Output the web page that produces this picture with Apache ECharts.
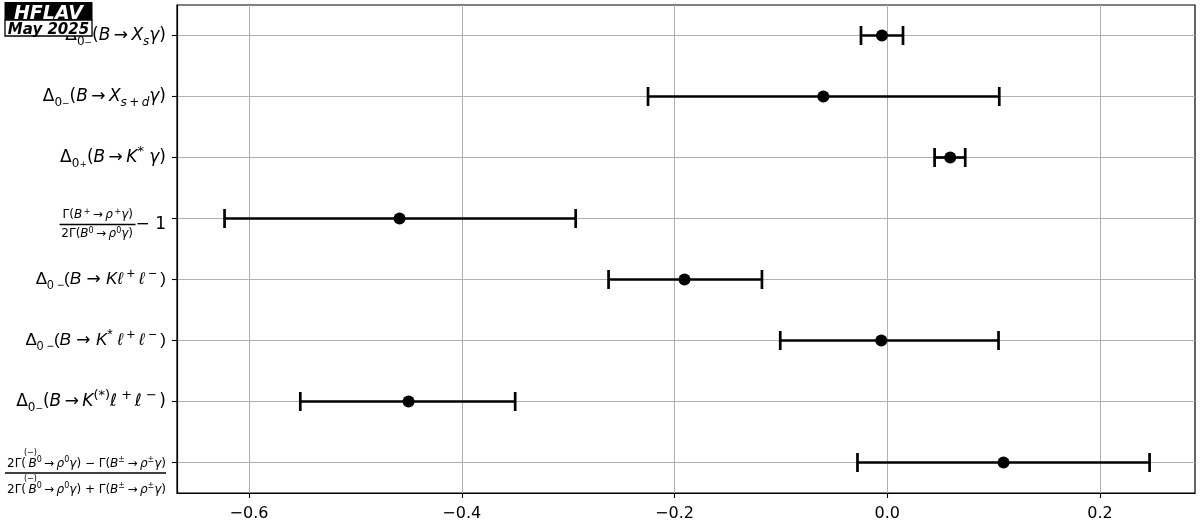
<!DOCTYPE html>
<html><head><meta charset="utf-8">
<script src="https://cdn.jsdelivr.net/npm/echarts@6/dist/echarts.min.js"></script>
<style>html,body{margin:0;padding:0;background:#fff}#c{width:1200px;height:528px}</style>
</head><body><div id="c"></div>
<script>
// ---- data ----
const categories = [
  'Delta_0-(B->Xs gamma)',
  'Delta_0-(B->Xs+d gamma)',
  'Delta_0+(B->K* gamma)',
  'Gamma(B+->rho+ gamma)/(2 Gamma(B0->rho0 gamma)) - 1',
  'Delta_0-(B->K l+ l-)',
  'Delta_0-(B->K* l+ l-)',
  'Delta_0-(B->K(*) l+ l-)',
  'isospin asymmetry B->rho gamma'
];
const centralValues = [-0.0050, -0.0601, 0.0592, -0.4585, -0.1906, -0.0056, -0.4500, 0.1093];
const lowerValues   = [-0.0247, -0.2249, 0.0445, -0.6230, -0.2620, -0.1006, -0.5518, -0.0280];
const upperValues   = [ 0.0148,  0.1053, 0.0733, -0.2929, -0.1178,  0.1046, -0.3498,  0.2466];
const xTickValues = [-0.6, -0.4, -0.2, 0.0, 0.2];
const xTickLabels = ['\u22120.6', '\u22120.4', '\u22120.2', '0.0', '0.2'];
const T = '\u2009'; // thin space
const AR = T + '→' + T;
const rowLabels = [
  '{n|Δ}{sb|0}{ss|−}{n|(}{i|B}{n|' + AR + '}{i|X}{sbi|s}{i|γ}{n|)}',
  '{n|Δ}{sb|0}{ss|−}{n|(}{i|B}{n|' + AR + '}{i|X}{sbi|s}{sb|' + T + '+' + T + '}{sbi|d}{i|γ}{n|)}',
  '{n|Δ}{sb|0}{ss|+}{n|(}{i|B}{n|' + AR + '}{i|K}{sup|*}{i| γ}{n|)}',
  '{gap3| }\n{f|Γ(}{fi|B}{fsup|' + T + '+}{f|' + AR + '}{fi|ρ}{fsup|' + T + '+}{fi|γ}{f|)}{sp3| }\n{bar3| }{m1|− 1}\n{f|2Γ(}{fi|B}{fsup|0}{f|' + AR + '}{fi|ρ}{fsup|0}{fi|γ}{f|)}{sp3| }',
  '{n2|Δ}{sb2|0}{sbl2| −}{n2|(}{i2|B}{n| → }{i2|Kℓ}{sup2| + }{i2|ℓ}{sup2| − }{n2|)}',
  '{n2|Δ}{sb2|0}{sbl2| −}{n2|(}{i2|B}{n| → }{i2|K}{sup2|*}{i2| ℓ}{sup2| + }{i2|ℓ}{sup2| − }{n2|)}',
  '{n|Δ}{sb|0}{ss|−}{n|(}{i|B}{n|' + AR + '}{i|K}{sup|(*)}{i|ℓ}{sup| +' + T + '}{i|ℓ}{sup| −' + T + '}{n|)}',
  '{gap7| }\n{acc|(−)}\n{f|2Γ(' + T + '}{fi|B}{fsup|0}{f|' + AR + '}{fi|ρ}{fsup|0}{fi|γ}{f|) − Γ(}{fi|B}{fsup|±}{f|' + AR + '}{fi|ρ}{fsup|±}{fi|γ}{f|)}\n{bar7| }\n{acc|(−)}\n{f|2Γ(' + T + '}{fi|B}{fsup|0}{f|' + AR + '}{fi|ρ}{fsup|0}{fi|γ}{f|) + Γ(}{fi|B}{fsup|±}{f|' + AR + '}{fi|ρ}{fsup|±}{fi|γ}{f|)}'
];

// ---- styles ----
const F = 'DejaVu Sans', F2 = 'Liberation Sans';
function st(fam, size, lh, extra) {
  return Object.assign({fontFamily: fam, fontSize: size, lineHeight: lh, color: '#000'}, extra || {});
}
const rich = {
  n: st(F, 17, 24), i: st(F, 17, 24, {fontStyle: 'italic'}),
  sb: st(F, 12, 14, {verticalAlign: 'bottom'}), sbi: st(F, 12, 14, {verticalAlign: 'bottom', fontStyle: 'italic'}),
  ss: st(F, 9, 20, {verticalAlign: 'bottom'}),
  sup: st(F, 13, 16, {verticalAlign: 'top'}),
  n2: st(F2, 17, 24), i2: st(F2, 17, 24, {fontStyle: 'italic'}),
  sb2: st(F2, 12, 14, {verticalAlign: 'bottom'}),
  sbl2: st(F2, 12, 10, {verticalAlign: 'bottom'}),
  sup2: st(F2, 14, 16, {verticalAlign: 'top'}),
  f: st(F, 12, 15), fi: st(F, 12, 15, {fontStyle: 'italic'}),
  fsup: st(F, 8, 9, {verticalAlign: 'top'}),
  sp3: st(F, 1, 1, {width: 33}),
  bar3: st(F, 1, 4, {width: 76, height: 1.3, backgroundColor: '#000'}),
  m1: st(F, 17, 4),
  gap3: st(F, 1, 12),
  gap7: st(F, 1, 21),
  bar7: st(F, 1, 4, {width: 161, height: 1.3, backgroundColor: '#000'}),
  acc: st(F, 8, 7, {align: 'left', padding: [0, 0, 0, 19]})
};

const chart = echarts.init(document.getElementById('c'), null, {renderer: 'canvas'});
const barData = categories.map((c, i) => [lowerValues[i], upperValues[i], i]);
const pointData = categories.map((c, i) => [centralValues[i], i]);

chart.setOption({
  animation: false,
  backgroundColor: '#fff',
  grid: {left: 177, right: 5, top: 5, bottom: 35, show: true, borderColor: '#000', borderWidth: 1.2, outerBoundsMode: 'none'},
  xAxis: {
    type: 'value', min: -0.6677, max: 0.2893,
    axisLine: {show: true, lineStyle: {color: '#000', width: 1.2}},
    axisTick: {show: true, length: 5, customValues: xTickValues, lineStyle: {color: '#000', width: 1.1}},
    splitLine: {show: true, lineStyle: {color: '#b0b0b0', width: 1}},
    axisLabel: {
      customValues: xTickValues, margin: 13, color: '#000', fontFamily: F, fontSize: 16,
      formatter: v => { const k = xTickValues.findIndex(t => Math.abs(t - v) < 1e-6); return k >= 0 ? xTickLabels[k] : ''; }
    }
  },
  yAxis: {
    type: 'category', data: categories, inverse: true, boundaryGap: true,
    axisLine: {show: true, onZero: false, lineStyle: {color: '#000', width: 1.2}},
    axisTick: {show: true, alignWithLabel: true, length: 5, lineStyle: {color: '#000', width: 1.1}},
    splitLine: {show: true, alignWithLabel: true, lineStyle: {color: '#b0b0b0', width: 1}},
    axisLabel: {interval: 0, margin: 11, formatter: (v, i) => rowLabels[i], rich: rich}
  },
  series: [
    {
      type: 'custom', data: barData, encode: {x: [0, 1], y: 2}, z: 3,
      renderItem: function (params, api) {
        const y = api.value(2);
        const p1 = api.coord([api.value(0), y]);
        const p2 = api.coord([api.value(1), y]);
        const h = 9.5;
        const style = {stroke: '#000', lineWidth: 2.7, fill: null};
        return {type: 'group', children: [
          {type: 'line', shape: {x1: p1[0], y1: p1[1], x2: p2[0], y2: p2[1]}, style: style},
          {type: 'line', shape: {x1: p1[0], y1: p1[1] - h, x2: p1[0], y2: p1[1] + h}, style: style},
          {type: 'line', shape: {x1: p2[0], y1: p2[1] - h, x2: p2[0], y2: p2[1] + h}, style: style}
        ]};
      }
    },
    {
      type: 'scatter', data: pointData, symbol: 'circle', symbolSize: 12, z: 4,
      itemStyle: {color: '#000', opacity: 1}
    }
  ],
  graphic: [
    {type: 'rect', z: 100, shape: {x: 4.5, y: 2, width: 88, height: 18}, style: {fill: '#000'}},
    {type: 'text', z: 101, x: 48.5, y: 14, style: {text: 'HFLAV', fill: '#fff', fontFamily: F, fontSize: 19, fontStyle: 'italic', fontWeight: 'bold', align: 'center', verticalAlign: 'middle'}},
    {type: 'rect', z: 100, shape: {x: 5, y: 20, width: 87, height: 16}, style: {fill: '#fff', stroke: '#000', lineWidth: 1.3}},
    {type: 'text', z: 101, x: 48.5, y: 30, style: {text: 'May 2025', fill: '#000', fontFamily: F, fontSize: 15, fontStyle: 'italic', fontWeight: 'bold', align: 'center', verticalAlign: 'middle'}}
  ]
});
</script></body></html>
